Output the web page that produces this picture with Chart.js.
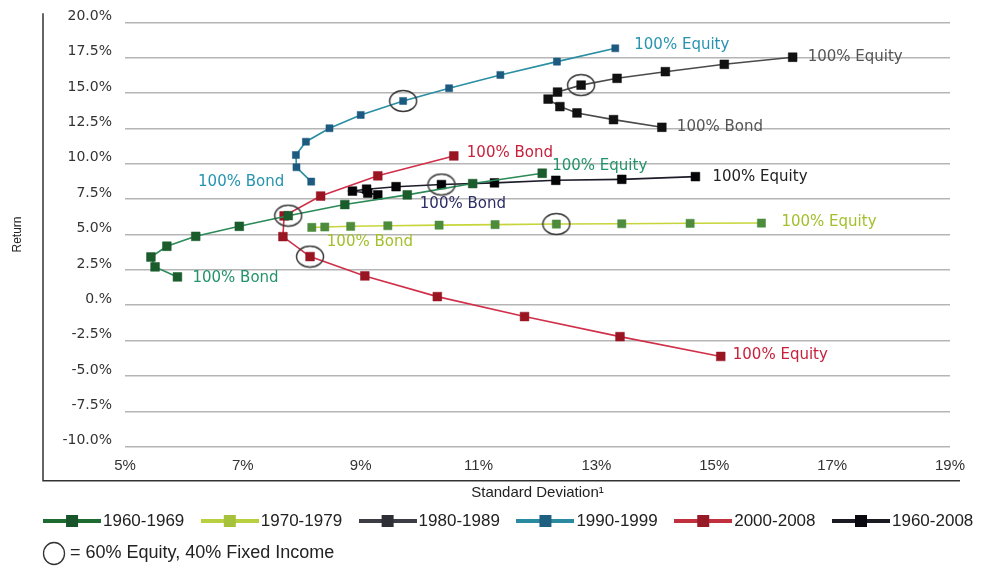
<!DOCTYPE html>
<html><head><meta charset="utf-8">
<script src="https://cdn.jsdelivr.net/npm/chart.js@4.4.1/dist/chart.umd.min.js"></script>
<style>html,body{margin:0;padding:0;background:#fff;}canvas{display:block;}</style>
</head><body>
<canvas id="c" width="994" height="566" style="width:994px;height:566px"></canvas>
<script>
// ---------- data ----------
const xTickLabels = ['5%','7%','9%','11%','13%','15%','17%','19%'];
const yTickLabels = ['-10.0%','-7.5%','-5.0%','-2.5%','0.%','2.5%','5.0%','7.5%','10.0%','12.5%','15.0%','17.5%','20.0%'];
const seriesNames = ['1960-1969','1970-1979','1980-1989','1990-1999','2000-2008','1960-2008'];

// each series runs from 100% Bond to 100% Equity
const sd1960s = [5.89, 5.51, 5.44, 5.71, 6.20, 6.94, 7.77, 8.73, 9.79, 10.90, 12.08];
const ret1960s = [2.00, 2.71, 3.41, 4.17, 4.87, 5.58, 6.33, 7.12, 7.80, 8.60, 9.33];

const sd1970s = [8.17, 8.39, 8.83, 9.46, 10.33, 11.28, 12.32, 13.43, 14.59, 15.80];
const ret1970s = [5.50, 5.53, 5.58, 5.62, 5.66, 5.70, 5.74, 5.76, 5.79, 5.81];

const sd1980s = [14.11, 13.29, 12.67, 12.38, 12.18, 12.34, 12.74, 13.35, 14.17, 15.17, 16.33];
const ret1980s = [12.58, 13.12, 13.59, 14.04, 14.57, 15.07, 15.56, 16.04, 16.51, 17.03, 17.53];

const sd1990s = [8.16, 7.91, 7.90, 8.07, 8.47, 9.00, 9.72, 10.50, 11.37, 12.33, 13.32];
const ret1990s = [8.74, 9.75, 10.62, 11.56, 12.51, 13.45, 14.44, 15.34, 16.28, 17.22, 18.16];

const sd2000s = [10.58, 9.29, 8.32, 7.70, 7.68, 8.14, 9.07, 10.30, 11.78, 13.40, 15.11];
const ret2000s = [10.55, 9.15, 7.72, 6.31, 4.85, 3.44, 2.07, 0.61, -0.80, -2.22, -3.62];

const sdAll = [9.29, 9.12, 8.86, 9.10, 9.60, 10.37, 11.27, 12.31, 13.43, 14.68];
const retAll = [7.80, 7.93, 8.07, 8.20, 8.38, 8.53, 8.65, 8.83, 8.90, 9.09];

// index of the 60% Equity / 40% Fixed Income point in each series
const sixtyFortyIndex = [6, 6, 6, 6, 5, 5];
const endLabels = ['100% Bond', '100% Equity'];
const noteText = '= 60% Equity, 40% Fixed Income';

// ---------- styles ----------
const sdSeries = [sd1960s, sd1970s, sd1980s, sd1990s, sd2000s, sdAll];
const retSeries = [ret1960s, ret1970s, ret1980s, ret1990s, ret2000s, retAll];
const styles = [
  {line:'#2b8a58', marker:'#1b5c2c', r:6.2, legLine:'#1e6b32', legMarker:'#18552a'},
  {line:'#c6d63a', marker:'#4c8c3c', r:5.8, legLine:'#b8d040', legMarker:'#a6c23a'},
  {line:'#4a4a4a', marker:'#111111', r:6.2, legLine:'#3c3c44', legMarker:'#2e2e36'},
  {line:'#2a8fa2', marker:'#1c5a80', r:5.0, legLine:'#2a8aa0', legMarker:'#1f5f7f'},
  {line:'#d0304a', marker:'#991522', r:6.2, legLine:'#c0303e', legMarker:'#981a26'},
  {line:'#1c1c2a', marker:'#050508', r:6.2, legLine:'#1a1a22', legMarker:'#08080e'}
];
// label placement: [bond, equity] -> offset from the point, alignment, colour
const labelPlacement = [
  [{dx:15, dy:1, align:'left', color:'#23936a'}, {dx:10, dy:-7, align:'left', color:'#23936a'}],
  [{dx:15, dy:15, align:'left', color:'#a3bf2b'}, {dx:20, dy:-1, align:'left', color:'#a3bf2b'}],
  [{dx:15, dy:0, align:'left', color:'#555555'}, {dx:15, dy:0, align:'left', color:'#555555'}],
  [{dx:-27, dy:1, align:'right', color:'#2694b0'}, {dx:19, dy:-3, align:'left', color:'#2694b0'}],
  [{dx:13, dy:-3, align:'left', color:'#c8203c'}, {dx:12, dy:-1, align:'left', color:'#c8203c'}],
  [{dx:42, dy:9, align:'left', color:'#2d2d66'}, {dx:17, dy:0, align:'left', color:'#222222'}]
];

function legendImage(lineColor, markerColor) {
  const c = document.createElement('canvas');
  c.width = 58; c.height = 14;
  const g = c.getContext('2d');
  g.strokeStyle = lineColor; g.lineWidth = 4;
  g.beginPath(); g.moveTo(0, 7); g.lineTo(58, 7); g.stroke();
  g.fillStyle = markerColor; g.fillRect(23, 1, 12, 12);
  return c;
}
function ellipseImage() {
  const c = document.createElement('canvas');
  c.width = 30; c.height = 24;
  const g = c.getContext('2d');
  g.strokeStyle = '#3a3a3a'; g.lineWidth = 1.5;
  g.beginPath(); g.ellipse(15, 12, 13.5, 10.5, 0, 0, Math.PI * 2); g.stroke();
  return c;
}
const legendImages = styles.map(s => legendImage(s.legLine, s.legMarker));
const ellipse = ellipseImage();

const datasets = seriesNames.map((name, k) => ({
  label: name,
  data: sdSeries[k].map((v, i) => ({x: v, y: retSeries[k][i]})),
  showLine: true,
  borderColor: styles[k].line,
  borderWidth: 1.6,
  tension: 0,
  pointStyle: 'rect',
  pointRadius: styles[k].r,
  pointBackgroundColor: styles[k].marker,
  pointBorderColor: styles[k].marker,
  pointBorderWidth: 0.5,
  order: k + 1
}));
datasets.push({
  label: 'circles',
  data: sixtyFortyIndex.map((idx, k) => ({x: sdSeries[k][idx], y: retSeries[k][idx]})),
  showLine: false,
  pointStyle: ellipse,
  pointRadius: 10,
  backgroundColor: 'rgba(0,0,0,0)',
  borderColor: '#3a3a3a',
  order: 0
});

// ---------- plugins ----------
const framePlugin = {
  id: 'frame',
  beforeDraw(chart) {
    const a = chart.chartArea, g = chart.ctx;
    g.save();
    g.strokeStyle = '#333'; g.lineWidth = 1.5;
    g.beginPath();
    g.moveTo(a.left - 82, a.top - 9);
    g.lineTo(a.left - 82, a.bottom + 34);
    g.lineTo(a.right + 10, a.bottom + 34);
    g.stroke();
    g.restore();
  }
};
const endLabelPlugin = {
  id: 'endLabels',
  afterDatasetsDraw(chart) {
    const g = chart.ctx;
    g.save();
    g.font = '15px "DejaVu Sans", sans-serif';
    g.textBaseline = 'middle';
    seriesNames.forEach((n, k) => {
      const pts = chart.getDatasetMeta(k).data;
      [0, pts.length - 1].forEach((idx, j) => {
        const p = labelPlacement[k][j];
        g.fillStyle = p.color;
        g.textAlign = p.align;
        g.fillText(endLabels[j], pts[idx].x + p.dx, pts[idx].y + p.dy);
      });
    });
    g.restore();
  }
};
const notePlugin = {
  id: 'note',
  afterDraw(chart) {
    const g = chart.ctx, lg = chart.legend;
    const y = lg.bottom + 14;
    g.save();
    g.strokeStyle = '#333'; g.lineWidth = 1.3;
    g.beginPath(); g.ellipse(54, y, 10.5, 11, 0, 0, Math.PI * 2); g.stroke();
    g.fillStyle = '#222';
    g.font = '18px "Liberation Sans", Arial, sans-serif';
    g.textBaseline = 'middle'; g.textAlign = 'left';
    g.fillText(noteText, 70, y);
    g.restore();
  }
};

const L = 22.8, R = -6;
new Chart(document.getElementById('c'), {
  type: 'scatter',
  data: {datasets},
  options: {
    responsive: false,
    animation: false,
    devicePixelRatio: 1,
    layout: {padding: {left: L, right: R, top: 22.3, bottom: 26.5}},
    scales: {
      x: {
        type: 'linear', min: 5, max: 19,
        ticks: {stepSize: 2, padding: 10, color: '#333',
          font: {family: '"Liberation Sans", Arial, sans-serif', size: 15},
          callback: (v, i) => xTickLabels[i]},
        grid: {display: false, drawTicks: false},
        border: {display: false},
        title: {display: true, text: 'Standard Deviation¹', color: '#222',
          font: {family: '"Liberation Sans", Arial, sans-serif', size: 15},
          padding: {top: 0, bottom: -12.5}},
        afterFit: s => { s.height = 42.8; }
      },
      y: {
        type: 'linear', min: -10, max: 20,
        ticks: {stepSize: 2.5, padding: 13, labelOffset: -6, color: '#333',
          font: {family: '"DejaVu Sans", sans-serif', size: 14},
          callback: (v, i) => yTickLabels[i]},
        grid: {color: '#b5b5b5', lineWidth: 1.5, drawTicks: false},
        border: {display: false},
        title: {display: true, text: 'Return', color: '#222',
          font: {family: '"Liberation Sans", Arial, sans-serif', size: 12},
          padding: {top: -12, bottom: 0}},
        afterFit: s => { s.width = 125 - L; }
      },
      yR: {
        position: 'right', display: true,
        ticks: {display: false}, grid: {display: false, drawTicks: false},
        border: {display: false},
        afterFit: s => { s.width = 994 - R - 950; }
      }
    },
    plugins: {
      tooltip: {enabled: false},
      legend: {
        position: 'bottom',
        align: 'center',
        labels: {
          usePointStyle: true,
          pointStyleWidth: 45,
          boxHeight: 17,
          padding: 23,
          color: '#222',
          font: {family: '"Liberation Sans", Arial, sans-serif', size: 17},
          filter: item => item.datasetIndex < seriesNames.length,
          generateLabels: chart => Chart.defaults.plugins.legend.labels.generateLabels(chart)
            .map(it => Object.assign(it, {pointStyle: legendImages[it.datasetIndex] || it.pointStyle}))
        }
      }
    }
  },
  plugins: [framePlugin, endLabelPlugin, notePlugin]
});
</script>
</body></html>
